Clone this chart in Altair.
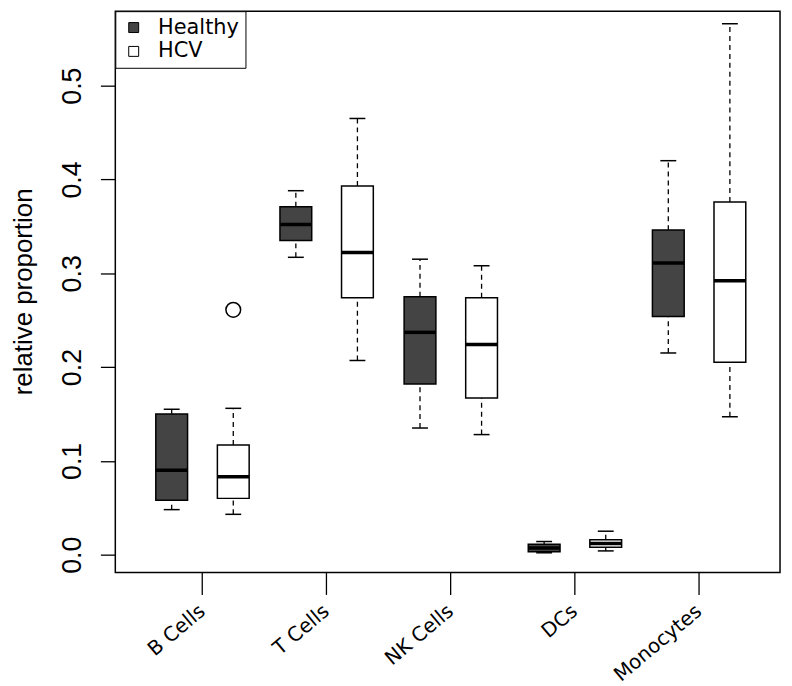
import altair as alt
import pandas as pd

cells = ["B Cells", "T Cells", "NK Cells", "DCs", "Monocytes"]
groups = ["Healthy", "HCV"]

# Healthy: whisker low, Q1, median, Q3, whisker high
healthy_lo = [0.048, 0.317, 0.135, 0.002, 0.215]
healthy_q1 = [0.058, 0.335, 0.182, 0.003, 0.254]
healthy_med = [0.090, 0.352, 0.237, 0.007, 0.311]
healthy_q3 = [0.150, 0.371, 0.275, 0.011, 0.346]
healthy_hi = [0.155, 0.388, 0.315, 0.014, 0.420]

# HCV
hcv_lo = [0.043, 0.207, 0.128, 0.004, 0.147]
hcv_q1 = [0.060, 0.274, 0.167, 0.008, 0.205]
hcv_med = [0.083, 0.322, 0.224, 0.012, 0.292]
hcv_q3 = [0.117, 0.393, 0.274, 0.016, 0.376]
hcv_hi = [0.156, 0.465, 0.308, 0.025, 0.566]

# outliers
outlier_cells = ["B Cells"]
outlier_groups = ["HCV"]
outlier_values = [0.261]

y_ticks = [0.0, 0.1, 0.2, 0.3, 0.4, 0.5]

rows = []
for g, lo, q1, med, q3, hi in [
    ("Healthy", healthy_lo, healthy_q1, healthy_med, healthy_q3, healthy_hi),
    ("HCV", hcv_lo, hcv_q1, hcv_med, hcv_q3, hcv_hi),
]:
    for i, c in enumerate(cells):
        rows.append(dict(cell=c, group=g, lo=lo[i], q1=q1[i], med=med[i], q3=q3[i], hi=hi[i]))
df = pd.DataFrame(rows)
out_df = pd.DataFrame({"cell": outlier_cells, "group": outlier_groups, "value": outlier_values})

xscale = alt.Scale(domain=cells, paddingInner=0, paddingOuter=0.177, align=0.571)
xaxis = alt.Axis(
    title=None, labelAngle=320, labelAlign="right", labelBaseline="middle",
    labelFont="DejaVu Sans", labelFontSize=20, labelColor="black",
    tickSize=22, tickColor="black", tickWidth=1.3, domain=False, labelPadding=14,
)
xoff_scale = alt.Scale(domain=groups, paddingInner=0.484, paddingOuter=0.25)
yscale = alt.Scale(domain=[-0.01907, 0.5794], nice=False, zero=False)
yaxis = alt.Axis(
    values=y_ticks, format=".1f", title="relative proportion", grid=False, domain=False,
    labelAngle=270, labelAlign="center", labelBaseline="alphabetic", labelPadding=20,
    labelFont="Liberation Sans", labelFontSize=27, labelColor="black",
    tickSize=15, tickColor="black", tickWidth=1.3,
    titleFont="Liberation Sans", titleFontSize=26, titleFontWeight="normal", titleColor="black",
    titleAngle=270, titleAlign="center", titleBaseline="alphabetic", titleX=-84, titleY=282,
)


def X():
    return alt.X("cell:N", sort=cells, scale=xscale, axis=xaxis)


def XO():
    return alt.XOffset("group:N", sort=groups, scale=xoff_scale)


def Y(field):
    return alt.Y(field, type="quantitative", scale=yscale, axis=yaxis)


base = alt.Chart(df)

upper_whisker = base.mark_rule(color="black", strokeWidth=1.3, strokeDash=[5, 4]).encode(
    x=X(), xOffset=XO(), y=Y("q3"), y2=alt.Y2("hi"))
lower_whisker = base.mark_rule(color="black", strokeWidth=1.3, strokeDash=[5, 4]).encode(
    x=X(), xOffset=XO(), y=Y("lo"), y2=alt.Y2("q1"))
upper_cap = base.mark_tick(color="black", size=16, thickness=1.5, opacity=1).encode(
    x=X(), xOffset=XO(), y=Y("hi"))
lower_cap = base.mark_tick(color="black", size=16, thickness=1.5, opacity=1).encode(
    x=X(), xOffset=XO(), y=Y("lo"))
boxes = base.mark_bar(stroke="black", strokeWidth=1.5, opacity=1).encode(
    x=X(), xOffset=XO(), y=Y("q1"), y2=alt.Y2("q3"),
    fill=alt.Fill(
        "group:N", sort=groups,
        scale=alt.Scale(domain=groups, range=["#444444", "#ffffff"]),
        legend=alt.Legend(
            title=None, orient="top-left", offset=0, padding=6,
            symbolType="square", symbolSize=100, symbolStrokeColor="black",
            symbolStrokeWidth=1, symbolOffset=2, labelOffset=14,
            labelFont="DejaVu Sans", labelFontSize=21, labelColor="black",
            rowPadding=2, strokeColor="black", fillColor="white",
        ),
    ),
)
medians = base.mark_tick(color="black", size=32, thickness=3.5, opacity=1).encode(
    x=X(), xOffset=XO(), y=Y("med"))
outliers = alt.Chart(out_df).mark_point(
    shape="circle", size=220, filled=False, stroke="black", strokeWidth=1.5, opacity=1
).encode(x=X(), xOffset=XO(), y=Y("value"))

chart = alt.layer(
    upper_whisker, lower_whisker, upper_cap, lower_cap, boxes, medians, outliers
).properties(
    width=669, height=565,
    autosize=alt.AutoSizeParams(type="none"),
    padding={"left": 108, "top": 1, "right": 4, "bottom": 112},
).configure_view(stroke="black", strokeWidth=1.5)

chart.save("out.html", embed_options={"renderer": "svg", "actions": False})
